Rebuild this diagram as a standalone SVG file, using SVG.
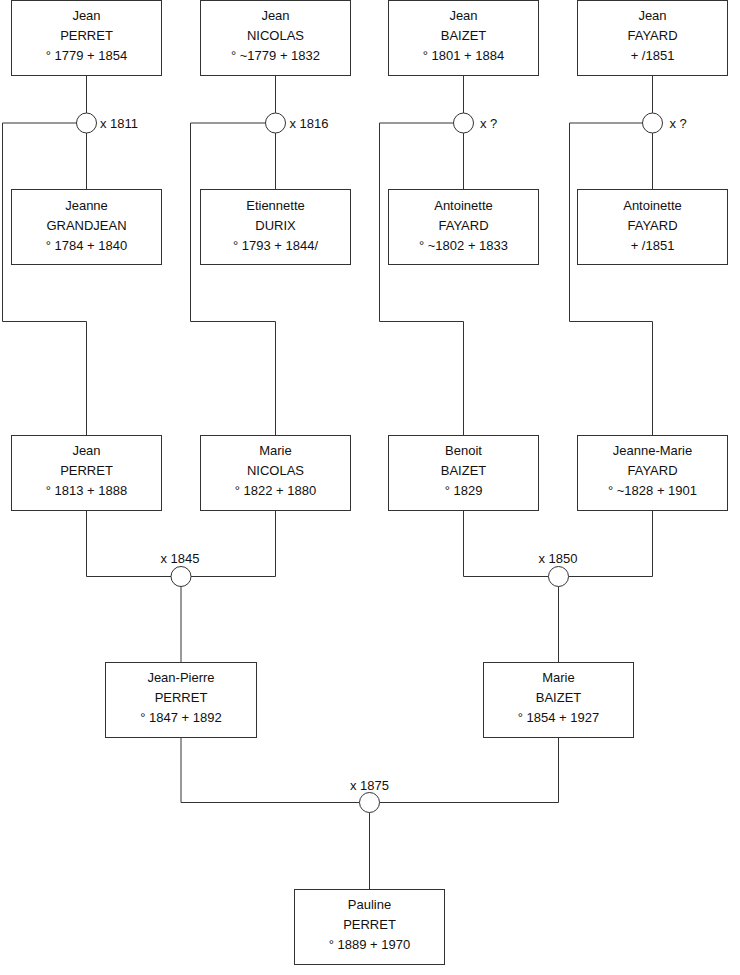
<svg xmlns="http://www.w3.org/2000/svg" width="740" height="975" viewBox="0 0 740 975">
<style>
.box{fill:#fff;stroke:#333;stroke-width:1}
.ln{fill:none;stroke:#333;stroke-width:1}
.ring{fill:#fff;stroke:#333;stroke-width:1}
text{font-family:"Liberation Sans",Arial,sans-serif;font-size:13px;fill:#111}
.c{text-anchor:middle}
</style>
<rect width="740" height="975" fill="#fff"/>
<g id="connectors">
<path class="ln" d="M86.5 76V113M86.5 133V189M76.5 123H2.5V321.5H86.5V435"/>
<path class="ln" d="M275.5 76V113M275.5 133V189M265.5 123H190.5V321.5H275.5V435"/>
<path class="ln" d="M463.5 76V113M463.5 133V189M453.5 123H379.5V321.5H463.5V435"/>
<path class="ln" d="M652.5 76V113M652.5 133V189M642.5 123H569.5V321.5H652.5V435"/>
<path class="ln" d="M86.5 511V576.5H171M191 576.5H275.5V511M181 586.5V662"/>
<path class="ln" d="M463.5 511V576.5H548.5M568.5 576.5H652.5V511M558.5 586.5V662"/>
<path class="ln" d="M181 738V802.5H359.5M379.5 802.5H558.5V738M369.5 812.5V889"/>
</g>
<g id="m1811"><circle class="ring" cx="86.5" cy="123" r="10"/><text x="100" y="128">x 1811</text></g>
<g id="m1816"><circle class="ring" cx="275.5" cy="123" r="10"/><text x="289.5" y="128">x 1816</text></g>
<g id="mBaizet"><circle class="ring" cx="463.5" cy="123" r="10"/><text x="480" y="128">x ?</text></g>
<g id="mFayard"><circle class="ring" cx="652.5" cy="123" r="10"/><text x="669.5" y="128">x ?</text></g>
<g id="m1845"><circle class="ring" cx="181" cy="576.5" r="10"/><text class="c" x="180" y="563">x 1845</text></g>
<g id="m1850"><circle class="ring" cx="558.5" cy="576.5" r="10"/><text class="c" x="558" y="563">x 1850</text></g>
<g id="m1875"><circle class="ring" cx="369.5" cy="802.5" r="10"/><text class="c" x="369.5" y="790">x 1875</text></g>

<g id="p1"><rect class="box" x="11.5" y="0.5" width="150" height="75"/><text class="c" x="86.5" y="20">Jean</text><text class="c" x="86.5" y="40">PERRET</text><text class="c" x="86.5" y="60">° 1779 + 1854</text></g>
<g id="p2"><rect class="box" x="200.5" y="0.5" width="150" height="75"/><text class="c" x="275.5" y="20">Jean</text><text class="c" x="275.5" y="40">NICOLAS</text><text class="c" x="275.5" y="60">° ~1779 + 1832</text></g>
<g id="p3"><rect class="box" x="388.5" y="0.5" width="150" height="75"/><text class="c" x="463.5" y="20">Jean</text><text class="c" x="463.5" y="40">BAIZET</text><text class="c" x="463.5" y="60">° 1801 + 1884</text></g>
<g id="p4"><rect class="box" x="577.5" y="0.5" width="150" height="75"/><text class="c" x="652.5" y="20">Jean</text><text class="c" x="652.5" y="40">FAYARD</text><text class="c" x="652.5" y="60">+ /1851</text></g>

<g id="p5"><rect class="box" x="11.5" y="189.5" width="150" height="75"/><text class="c" x="86.5" y="210">Jeanne</text><text class="c" x="86.5" y="230">GRANDJEAN</text><text class="c" x="86.5" y="250">° 1784 + 1840</text></g>
<g id="p6"><rect class="box" x="200.5" y="189.5" width="150" height="75"/><text class="c" x="275.5" y="210">Etiennette</text><text class="c" x="275.5" y="230">DURIX</text><text class="c" x="275.5" y="250">° 1793 + 1844/</text></g>
<g id="p7"><rect class="box" x="388.5" y="189.5" width="150" height="75"/><text class="c" x="463.5" y="210">Antoinette</text><text class="c" x="463.5" y="230">FAYARD</text><text class="c" x="463.5" y="250">° ~1802 + 1833</text></g>
<g id="p8"><rect class="box" x="577.5" y="189.5" width="150" height="75"/><text class="c" x="652.5" y="210">Antoinette</text><text class="c" x="652.5" y="230">FAYARD</text><text class="c" x="652.5" y="250">+ /1851</text></g>

<g id="p9"><rect class="box" x="11.5" y="435.5" width="150" height="75"/><text class="c" x="86.5" y="455">Jean</text><text class="c" x="86.5" y="475">PERRET</text><text class="c" x="86.5" y="495">° 1813 + 1888</text></g>
<g id="p10"><rect class="box" x="200.5" y="435.5" width="150" height="75"/><text class="c" x="275.5" y="455">Marie</text><text class="c" x="275.5" y="475">NICOLAS</text><text class="c" x="275.5" y="495">° 1822 + 1880</text></g>
<g id="p11"><rect class="box" x="388.5" y="435.5" width="150" height="75"/><text class="c" x="463.5" y="455">Benoit</text><text class="c" x="463.5" y="475">BAIZET</text><text class="c" x="463.5" y="495">° 1829</text></g>
<g id="p12"><rect class="box" x="577.5" y="435.5" width="150" height="75"/><text class="c" x="652.5" y="455">Jeanne-Marie</text><text class="c" x="652.5" y="475">FAYARD</text><text class="c" x="652.5" y="495">° ~1828 + 1901</text></g>

<g id="p13"><rect class="box" x="105.5" y="662.5" width="151" height="75"/><text class="c" x="181" y="682">Jean-Pierre</text><text class="c" x="181" y="702">PERRET</text><text class="c" x="181" y="722">° 1847 + 1892</text></g>
<g id="p14"><rect class="box" x="483.5" y="662.5" width="150" height="75"/><text class="c" x="558.5" y="682">Marie</text><text class="c" x="558.5" y="702">BAIZET</text><text class="c" x="558.5" y="722">° 1854 + 1927</text></g>

<g id="p15"><rect class="box" x="294.5" y="889.5" width="150" height="75"/><text class="c" x="369.5" y="909">Pauline</text><text class="c" x="369.5" y="929">PERRET</text><text class="c" x="369.5" y="949">° 1889 + 1970</text></g>
</svg>
